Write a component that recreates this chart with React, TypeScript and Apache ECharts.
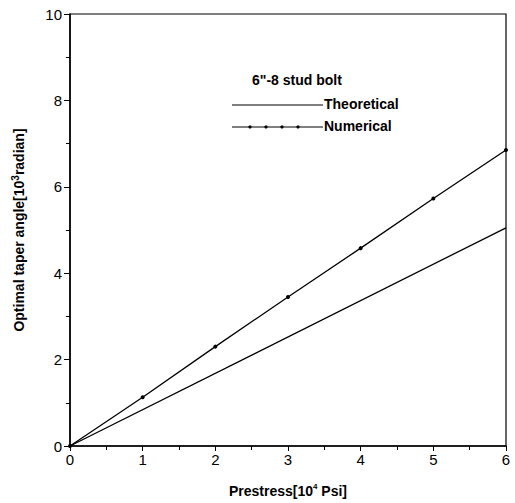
import React, { useEffect, useRef } from "react";
import * as echarts from "echarts";

const xValues = [0, 1, 2, 3, 4, 5, 6];
const numericalValues = [0, 1.13, 2.3, 3.45, 4.58, 5.73, 6.85];
const theoreticalX = [0, 6];
const theoreticalValues = [0, 5.05];
const legendTitle = '6"-8 stud bolt';
const seriesNames = ["Theoretical", "Numerical"];

export default function App() {
  const ref = useRef<HTMLDivElement>(null);
  useEffect(() => {
    const chart = echarts.init(ref.current!, null, { renderer: "svg" });
    const font = "'Liberation Sans', Arial, sans-serif";
    const dotXs = [250, 266, 282, 298];
    chart.setOption({
      animation: false,
      backgroundColor: "#fff",
      textStyle: { fontFamily: font },
      grid: { left: 70, right: 9, top: 14, bottom: 55, show: true, borderColor: "#000", borderWidth: 1.2 },
      xAxis: {
        type: "value",
        min: 0,
        max: 6,
        interval: 1,
        name: "{a|Prestress[10}{s|4}{a| Psi]}",
        nameLocation: "middle",
        nameGap: 36,
        nameTextStyle: {
          rich: {
            a: { fontSize: 14, fontWeight: "bold", color: "#000", fontFamily: font, lineHeight: 18 },
            s: { fontSize: 8, fontWeight: "bold", color: "#000", fontFamily: font, verticalAlign: "top", lineHeight: 18 },
          },
        },
        axisLine: { onZero: false, lineStyle: { color: "#000", width: 1.5 } },
        axisTick: { show: true, length: 5, lineStyle: { color: "#000" } },
        minorTick: { show: true, splitNumber: 2, length: 4, lineStyle: { color: "#000" } },
        axisLabel: { color: "#000", fontSize: 15, margin: 6, fontFamily: font },
        splitLine: { show: false },
      },
      yAxis: {
        type: "value",
        min: 0,
        max: 10,
        interval: 2,
        name: "{a|Optimal taper angle[10}{s|3}{a|radian]}",
        nameLocation: "middle",
        nameGap: 42,
        nameTextStyle: {
          rich: {
            a: { fontSize: 14, fontWeight: "bold", color: "#000", fontFamily: font, lineHeight: 18 },
            s: { fontSize: 10, fontWeight: "bold", color: "#000", fontFamily: font, verticalAlign: "top", lineHeight: 18 },
          },
        },
        axisLine: { onZero: false, lineStyle: { color: "#000", width: 1.5 } },
        axisTick: { show: true, length: 6, lineStyle: { color: "#000" } },
        minorTick: { show: true, splitNumber: 2, length: 4, lineStyle: { color: "#000" } },
        axisLabel: { color: "#000", fontSize: 15, margin: 8, fontFamily: font },
        splitLine: { show: false },
      },
      series: [
        {
          name: seriesNames[0],
          type: "line",
          data: theoreticalX.map((x, i) => [x, theoreticalValues[i]]),
          showSymbol: false,
          symbol: "none",
          lineStyle: { color: "#000", width: 1.3 },
        },
        {
          name: seriesNames[1],
          type: "line",
          data: xValues.map((x, i) => [x, numericalValues[i]]),
          symbol: "circle",
          symbolSize: 4,
          itemStyle: { color: "#000" },
          lineStyle: { color: "#000", width: 1.3 },
        },
      ],
      graphic: [
        {
          type: "text",
          left: 252,
          top: 73,
          style: { text: legendTitle, font: `bold 14px ${font}`, fill: "#000" },
        },
        { type: "line", shape: { x1: 232, y1: 105, x2: 323, y2: 105 }, style: { stroke: "#000", lineWidth: 1.2 } },
        {
          type: "text",
          left: 324,
          top: 97,
          style: { text: seriesNames[0], font: `bold 14px ${font}`, fill: "#000" },
        },
        { type: "line", shape: { x1: 232, y1: 127, x2: 323, y2: 127 }, style: { stroke: "#000", lineWidth: 1.2 } },
        ...dotXs.map((cx) => ({ type: "circle", shape: { cx, cy: 127, r: 1.6 }, style: { fill: "#000" } })),
        {
          type: "text",
          left: 324,
          top: 119,
          style: { text: seriesNames[1], font: `bold 14px ${font}`, fill: "#000" },
        },
      ],
    });
    return () => chart.dispose();
  }, []);
  return <div ref={ref} style={{ width: 515, height: 503, position: "absolute", left: 0, top: 0 }} />;
}
